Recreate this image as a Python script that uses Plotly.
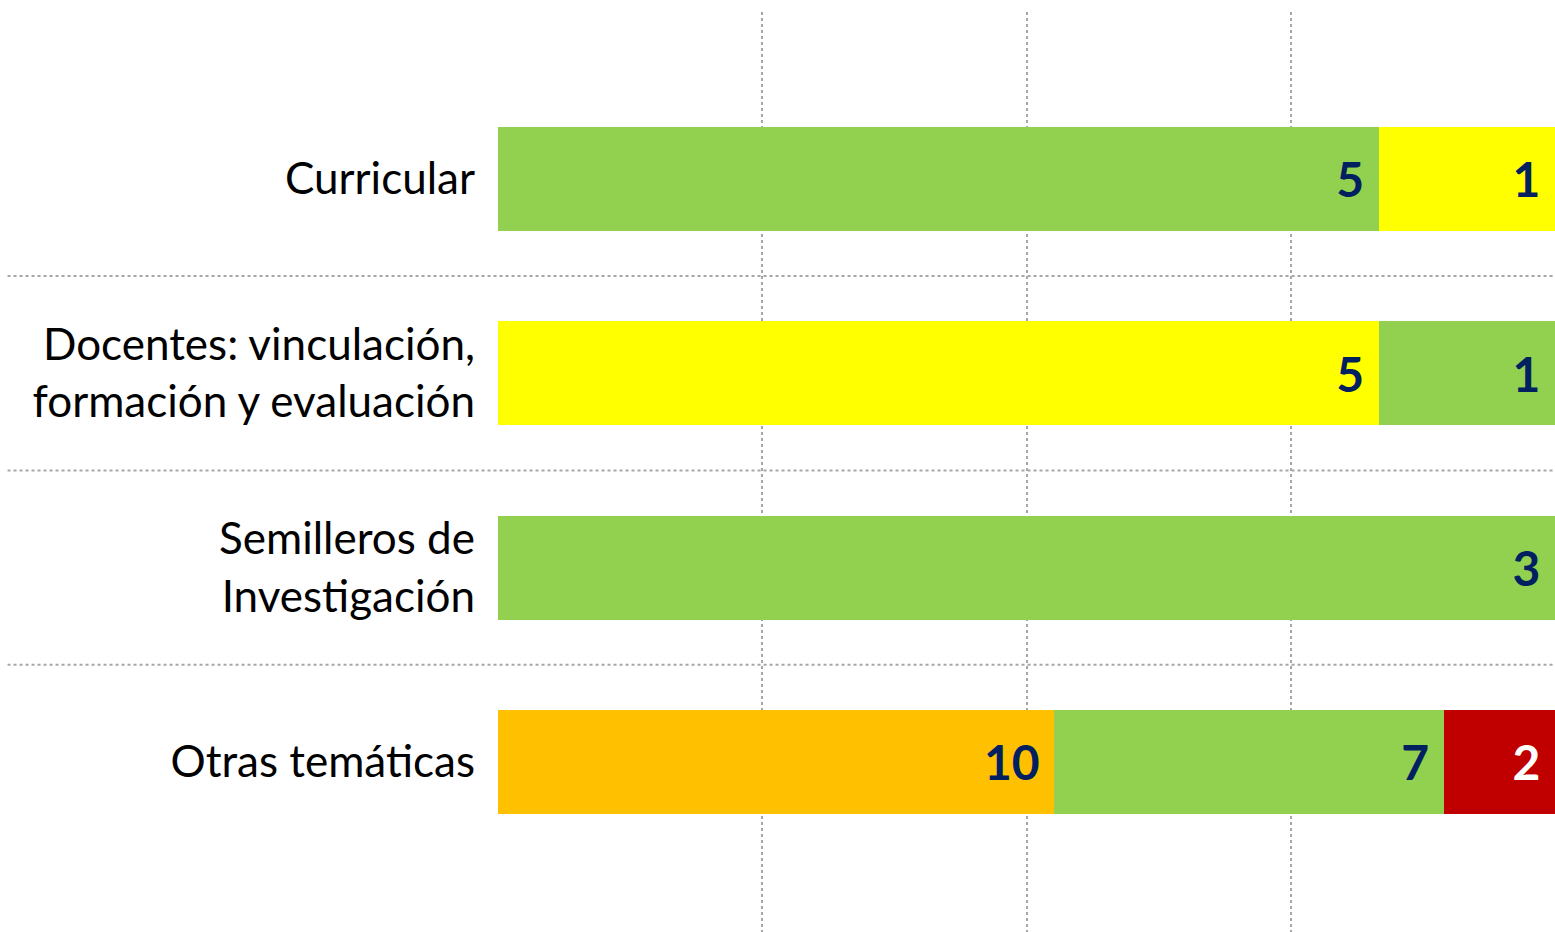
import plotly.graph_objects as go

# ---------------- data ----------------
categories = [
    "Curricular",
    "Docentes: vinculación,<br>formación y evaluación",
    "Semilleros de<br>Investigación",
    "Otras temáticas",
]

# segments in drawing order (left to right inside each bar)
seg1_values = [5, 5, 3, 10]
seg2_values = [1, 1, None, 7]
seg3_values = [None, None, None, 2]

# colours
GREEN = "#92D050"
YELLOW = "#FFFF00"
ORANGE = "#FFC000"
RED = "#C00000"
NAVY = "#002060"

seg1_colors = [GREEN, YELLOW, GREEN, ORANGE]
seg2_colors = [YELLOW, GREEN, GREEN, GREEN]
seg3_colors = [RED, RED, RED, RED]

fig = go.Figure()

for vals, cols, txtcol in [
    (seg1_values, seg1_colors, NAVY),
    (seg2_values, seg2_colors, NAVY),
    (seg3_values, seg3_colors, "white"),
]:
    fig.add_trace(
        go.Bar(
            y=categories,
            x=vals,
            orientation="h",
            marker=dict(color=cols, line=dict(width=0)),
            text=vals,
            texttemplate="%{text}\u00a0",
            textposition="inside",
            insidetextanchor="end",
            textangle=0,
            textfont=dict(family="Lato", size=48, color=txtcol, weight="bold"),
            hoverinfo="skip",
            showlegend=False,
        )
    )

# dotted separators between the categories
for yb in [0.5, 1.5, 2.5]:
    fig.add_shape(
        type="line",
        xref="paper",
        yref="y",
        x0=-0.464,
        x1=1,
        y0=yb,
        y1=yb,
        line=dict(color="#A6A6A6", width=2, dash="dot"),
        layer="below",
    )

fig.update_layout(
    width=1555,
    height=932,
    barmode="stack",
    barnorm="fraction",
    bargap=0.465,
    plot_bgcolor="white",
    paper_bgcolor="white",
    margin=dict(l=498, r=0, t=12, b=0),
    font=dict(family="Lato", size=44, color="black"),
)

fig.update_xaxes(
    range=[0, 1],
    tickvals=[0.25, 0.5, 0.75],
    showticklabels=False,
    showgrid=True,
    gridcolor="#A6A6A6",
    gridwidth=2,
    griddash="dot",
    zeroline=False,
    showline=False,
    fixedrange=True,
)

fig.update_yaxes(
    categoryorder="array",
    categoryarray=categories,
    range=[3.875, -0.859],
    showgrid=False,
    zeroline=False,
    showline=False,
    ticks="",
    ticklabelstandoff=22,
    tickfont=dict(family="Lato", size=44, color="black"),
    fixedrange=True,
)

# no default page margin so the figure fills the window exactly
fig.write_html(
    "out.html",
    config={"displayModeBar": False},
    post_script="document.body.style.margin='0';document.body.style.overflow='hidden';",
)
